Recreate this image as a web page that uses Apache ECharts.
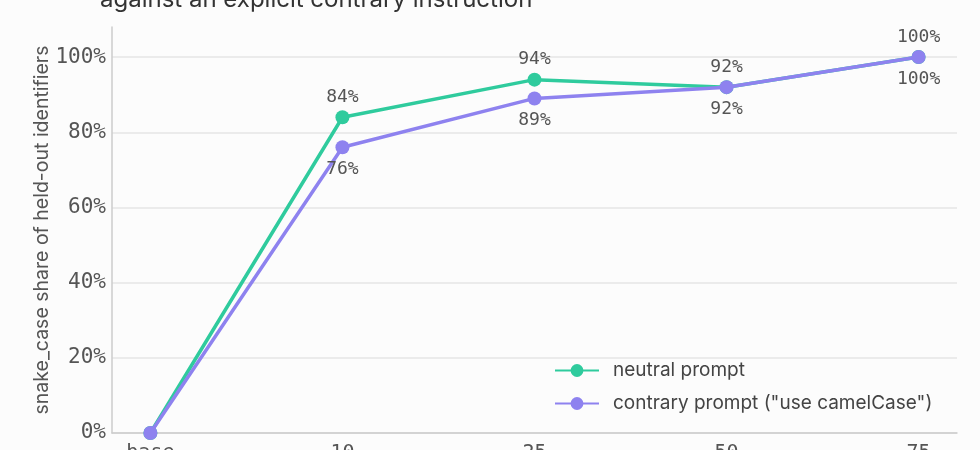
<!DOCTYPE html>
<html>
<head>
<meta charset="utf-8">
<script src="https://cdn.jsdelivr.net/npm/echarts@6/dist/echarts.min.js"></script>
<style>
html,body{margin:0;padding:0;background:#fcfcfc;}
#chart{width:980px;height:450px;}
</style>
</head>
<body>
<div id="chart"></div>
<script>
const categories = ['base', '10', '25', '50', '75'];
const neutralValues = [0, 0.84, 0.94, 0.92, 1.00];
const contraryValues = [0, 0.76, 0.89, 0.92, 1.00];
const seriesNames = ['neutral prompt', 'contrary prompt ("use camelCase")'];
const titleText = 'against an explicit contrary instruction';
const yAxisName = 'snake_case share of held-out identifiers';

const GREEN = '#2fcb9d';
const PURPLE = '#8e82ef';
const MONO = '"DejaVu Sans Mono", monospace';
const SANS = 'Inter, Roboto, sans-serif';

function pts(vals) { return vals.map((v, i) => [i, v]); }
function pctLabel(p) { return p.dataIndex === 0 ? '' : Math.round(p.value[1] * 100) + '%'; }

const chart = echarts.init(document.getElementById('chart'), null, {renderer: 'canvas'});
chart.setOption({
  backgroundColor: '#fcfcfc',
  animation: false,
  title: {
    text: titleText,
    left: 95,
    top: -17,
    textStyle: {fontFamily: SANS, fontSize: 24, fontWeight: 'normal', color: '#333'}
  },
  grid: {left: 112, right: 23, top: 27, bottom: 17, containLabel: false, outerBoundsMode: 'none'},
  legend: {
    orient: 'vertical',
    left: 554,
    top: 361,
    itemWidth: 44,
    itemHeight: 16,
    itemGap: 14,
    padding: 0,
    textStyle: {fontFamily: SANS, fontSize: 19, color: '#444', padding: [0, 0, 0, 9]},
    data: seriesNames
  },
  xAxis: {
    type: 'value',
    min: -0.2,
    max: 4.2,
    axisLine: {show: true, onZero: false, lineStyle: {color: '#cccccc', width: 1.5}},
    axisTick: {show: false},
    splitLine: {show: false},
    axisLabel: {
      customValues: [0, 1, 2, 3, 4],
      formatter: v => categories[v],
      fontFamily: MONO, fontSize: 20, color: '#555', margin: 10
    }
  },
  yAxis: {
    type: 'value',
    min: 0,
    max: 1.08,
    interval: 0.2,
    name: yAxisName,
    nameLocation: 'middle',
    nameGap: 60,
    nameMoveOverlap: false,
    nameTextStyle: {fontFamily: SANS, fontSize: 19.5, color: '#555'},
    axisLine: {show: true, onZero: false, lineStyle: {color: '#cccccc', width: 1.5}},
    axisTick: {show: false},
    splitLine: {show: true, showMaxLine: false, lineStyle: {color: '#e6e6e6', width: 1.5}},
    axisLabel: {
      showMaxLabel: false,
      formatter: v => Math.round(v * 100) + '%',
      fontFamily: MONO, fontSize: 21, color: '#555', margin: 6
    }
  },
  series: [
    {
      name: seriesNames[0],
      type: 'line',
      data: pts(neutralValues),
      color: GREEN,
      lineStyle: {width: 3.5},
      symbol: 'circle',
      symbolSize: 14,
      label: {show: true, position: 'top', distance: 4, formatter: pctLabel,
        fontFamily: MONO, fontSize: 18, color: '#555'},
      z: 2
    },
    {
      name: seriesNames[1],
      type: 'line',
      data: pts(contraryValues),
      color: PURPLE,
      lineStyle: {width: 3.5},
      symbol: 'circle',
      symbolSize: 14,
      label: {show: true, position: 'bottom', distance: 6, formatter: pctLabel,
        fontFamily: MONO, fontSize: 18, color: '#555'},
      z: 3
    }
  ]
});
</script>
</body>
</html>
